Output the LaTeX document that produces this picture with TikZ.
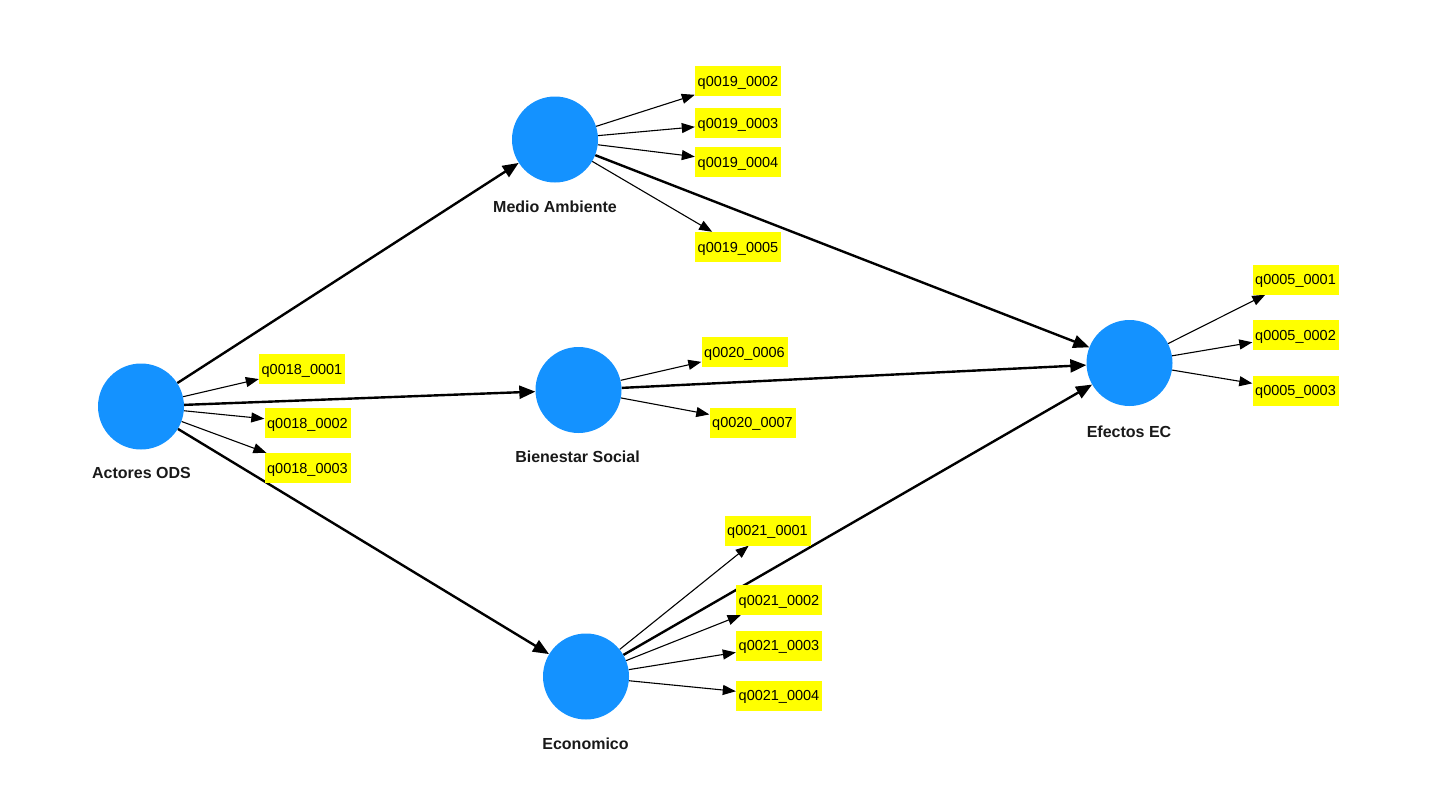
\documentclass[tikz,border=0pt]{standalone}
\usepackage{fontspec}
\setmainfont{Liberation Sans}
\usetikzlibrary{arrows.meta,backgrounds}
\definecolor{lvblue}{RGB}{20,146,255}
\definecolor{indyellow}{RGB}{255,255,0}
\tikzset{
  latent/.style={circle,fill=lvblue,minimum size=86pt,inner sep=0pt},
  lvlabel/.style={font=\fontsize{16}{18}\selectfont\bfseries,text=black!90},
  indicator/.style={fill=indyellow,minimum width=86pt,minimum height=30pt,inner sep=0pt,
    text height=10.4pt,text depth=0pt,font=\fontsize{14.5}{16}\selectfont},
  structpath/.style={line width=2.4pt,-{Triangle[length=16pt,width=13pt]}},
  loading/.style={line width=1.1pt,-{Triangle[length=13pt,width=10pt]}},
}
\begin{document}
\begin{tikzpicture}[x=1pt,y=-1pt]
\useasboundingbox (0,0) rectangle (1437,808);
% latent variables
\node[latent] (act) at (141,406.5) {};
\node[latent] (med) at (555,139.5) {};
\node[latent] (bie) at (578.5,390) {};
\node[latent] (eco) at (586,676.5) {};
\node[latent] (efe) at (1129.5,363) {};
% labels
\node[lvlabel] (actL) at (141.5,473) {Actores ODS};
\node[lvlabel] (medL) at (555,207) {Medio Ambiente};
\node[lvlabel] (bieL) at (577.5,457) {Bienestar Social};
\node[lvlabel] (ecoL) at (585.5,744) {Economico};
\node[lvlabel] (efeL) at (1129,432) {Efectos EC};
% indicators
\node[indicator] (q18a) at (302,369) {q0018\_0001};
\node[indicator] (q18b) at (307.5,423) {q0018\_0002};
\node[indicator] (q18c) at (307.5,468) {q0018\_0003};
\node[indicator] (q19b) at (738,81) {q0019\_0002};
\node[indicator] (q19c) at (738,123) {q0019\_0003};
\node[indicator] (q19d) at (738,162) {q0019\_0004};
\node[indicator] (q19e) at (738,247) {q0019\_0005};
\node[indicator] (q20f) at (744.5,352) {q0020\_0006};
\node[indicator] (q20g) at (752.5,422.5) {q0020\_0007};
\node[indicator] (q21a) at (767.5,530.5) {q0021\_0001};
\node[indicator] (q21b) at (779,600) {q0021\_0002};
\node[indicator] (q21c) at (779,645.5) {q0021\_0003};
\node[indicator] (q21d) at (779,695.5) {q0021\_0004};
\node[indicator] (q5a) at (1295.5,279.5) {q0005\_0001};
\node[indicator] (q5b) at (1295.5,335) {q0005\_0002};
\node[indicator] (q5c) at (1295.5,390.5) {q0005\_0003};
\begin{scope}[on background layer]
% structural paths
\draw[structpath] (act) -- (med);
\draw[structpath] (act) -- (bie);
\draw[structpath] (act) -- (eco);
\draw[structpath] (med) -- (efe);
\draw[structpath] (bie) -- (efe);
\draw[structpath] (eco) -- (efe);
% loadings
\draw[loading] (act) -- (q18a);
\draw[loading] (act) -- (q18b);
\draw[loading] (act) -- (q18c);
\draw[loading] (med) -- (q19b);
\draw[loading] (med) -- (q19c);
\draw[loading] (med) -- (q19d);
\draw[loading] (med) -- (q19e);
\draw[loading] (bie) -- (q20f);
\draw[loading] (bie) -- (q20g);
\draw[loading] (eco) -- (q21a);
\draw[loading] (eco) -- (q21b);
\draw[loading] (eco) -- (q21c);
\draw[loading] (eco) -- (q21d);
\draw[loading] (efe) -- (q5a);
\draw[loading] (efe) -- (q5b);
\draw[loading] (efe) -- (q5c);
\end{scope}
\end{tikzpicture}
\end{document}
